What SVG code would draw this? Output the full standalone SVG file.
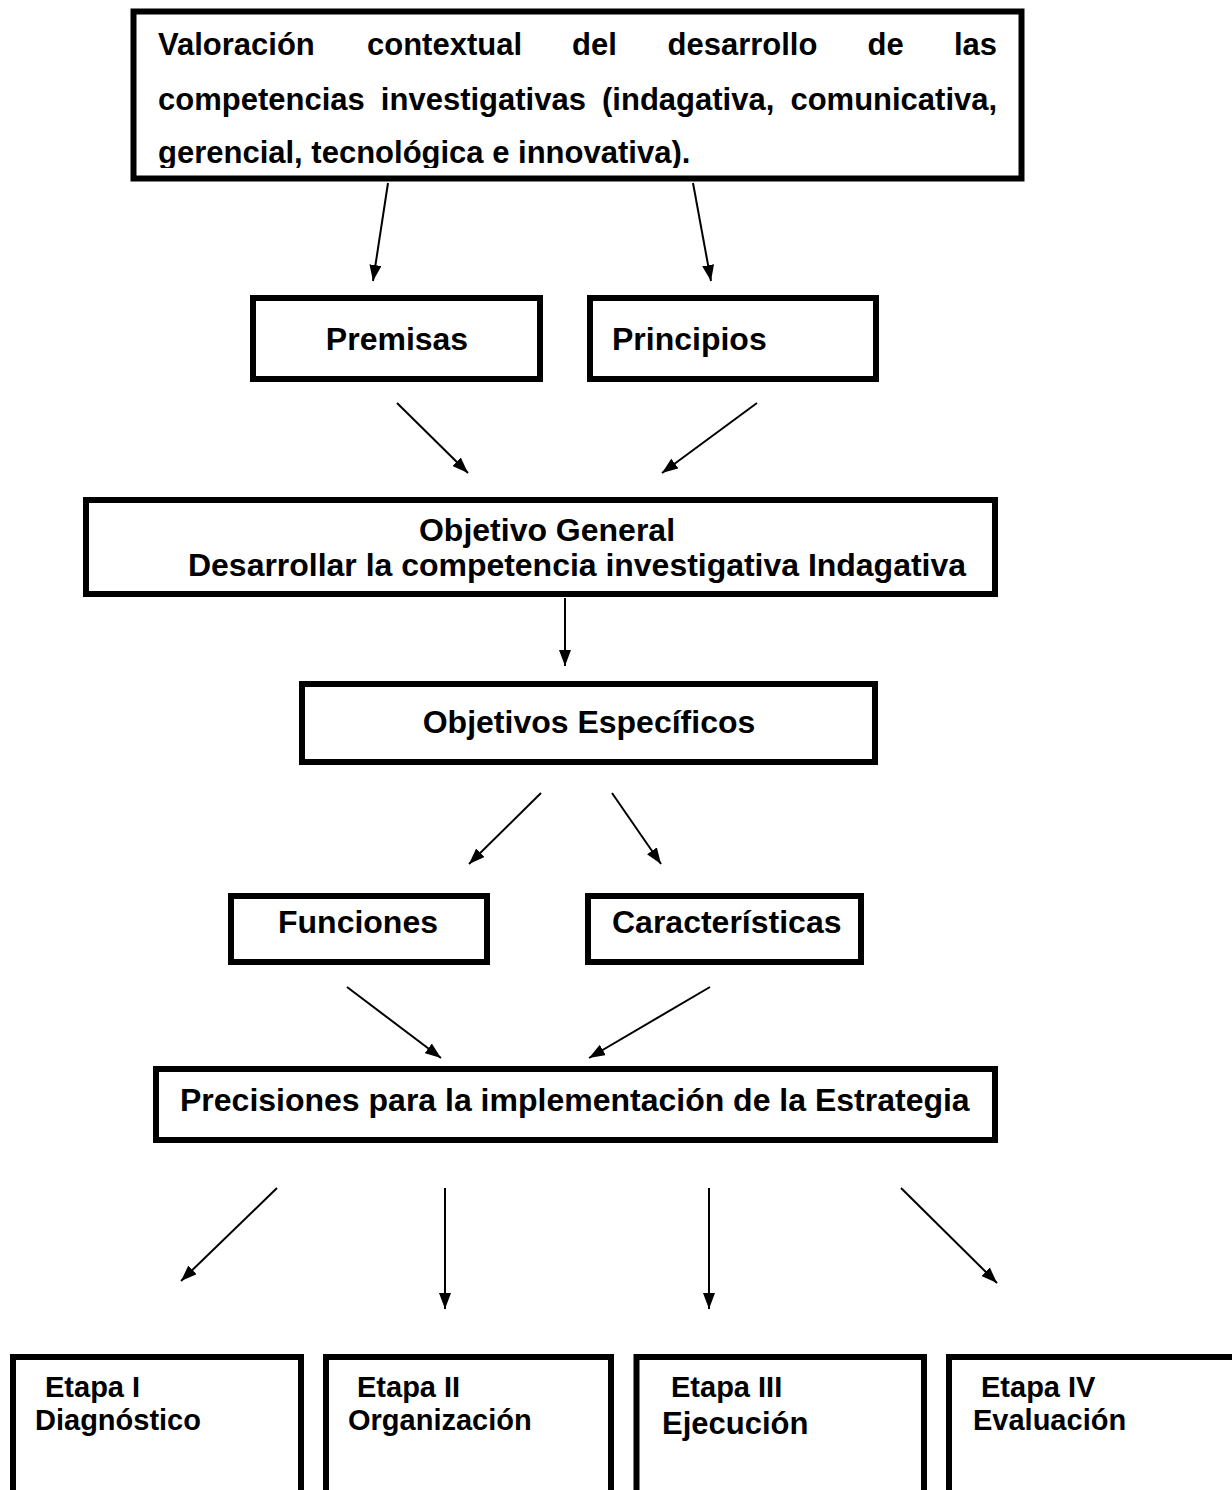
<svg xmlns="http://www.w3.org/2000/svg" width="1232" height="1490" viewBox="0 0 1232 1490">
<style>
.box{fill:#fff;stroke:#000;stroke-width:6}
.open{fill:none;stroke:#000;stroke-width:6}
.t{font-family:"Liberation Sans",Arial,sans-serif;font-weight:bold;font-size:32px;fill:#000}
.tt{font-size:31px}
.s{font-size:29px}
.e{font-size:31px}
.c{stroke:#000;stroke-width:2;fill:none;marker-end:url(#ah)}
</style>
<defs>
<marker id="ah" viewBox="0 0 16 12" refX="16" refY="6" markerWidth="16" markerHeight="12" markerUnits="userSpaceOnUse" orient="auto">
<path d="M0,0 L16,6 L0,12 z" fill="#000"/>
</marker>
<clipPath id="clipTop"><rect x="137" y="15" width="880" height="153"/></clipPath>
</defs>
<rect width="1232" height="1490" fill="#fff"/>

<g id="top">
<rect class="box" x="133.5" y="11.5" width="888" height="167" stroke-width="7"/>
<g clip-path="url(#clipTop)">
<text class="t tt" y="55"><tspan x="158">Valoración</tspan><tspan x="367">contextual</tspan><tspan x="572">del</tspan><tspan x="667.5">desarrollo</tspan><tspan x="867.5">de</tspan><tspan x="954">las</tspan></text>
<text class="t tt" x="158" y="110" word-spacing="7.5">competencias investigativas (indagativa, comunicativa,</text>
<text class="t tt" x="158" y="163">gerencial, tecnológica e innovativa).</text>
</g>
</g>

<g id="premisas">
<rect class="box" x="253" y="298" width="287" height="81"/>
<text class="t" x="397" y="350" text-anchor="middle">Premisas</text>
</g>
<g id="principios">
<rect class="box" x="590" y="298" width="286" height="81"/>
<text class="t" x="612" y="350">Principios</text>
</g>

<g id="objetivo-general">
<rect class="box" x="86" y="500" width="909" height="94"/>
<text class="t" x="547" y="541" text-anchor="middle">Objetivo General</text>
<text class="t" x="188" y="576" textLength="778">Desarrollar la competencia investigativa Indagativa</text>
</g>

<g id="objetivos-especificos">
<rect class="box" x="302" y="684" width="573" height="78"/>
<text class="t" x="589" y="733" text-anchor="middle">Objetivos Específicos</text>
</g>

<g id="funciones">
<rect class="box" x="231" y="896" width="256" height="66"/>
<text class="t" x="358" y="933" text-anchor="middle">Funciones</text>
</g>
<g id="caracteristicas">
<rect class="box" x="588" y="896" width="273" height="66"/>
<text class="t" x="612" y="933">Características</text>
</g>

<g id="precisiones">
<rect class="box" x="156" y="1069" width="839" height="71"/>
<text class="t" x="180" y="1111">Precisiones para la implementación de la Estrategia</text>
</g>

<g id="etapa1">
<path class="open" d="M13,1500 V1357 H301 V1500"/>
<text class="t s" x="45" y="1397">Etapa I</text>
<text class="t s" x="35" y="1430">Diagnóstico</text>
</g>
<g id="etapa2">
<path class="open" d="M326,1500 V1357 H611 V1500"/>
<text class="t s" x="357" y="1397">Etapa II</text>
<text class="t s" x="348" y="1430">Organización</text>
</g>
<g id="etapa3">
<path class="open" d="M636.5,1500 V1357 H924 V1500"/>
<text class="t s" x="671" y="1397">Etapa III</text>
<text class="t e" x="662" y="1434">Ejecución</text>
</g>
<g id="etapa4">
<path class="open" d="M949,1500 V1357 H1240"/>
<text class="t s" x="981" y="1397">Etapa IV</text>
<text class="t s" x="973" y="1430">Evaluación</text>
</g>

<g id="connectors">
<line class="c" x1="388" y1="183" x2="373" y2="281"/>
<line class="c" x1="693" y1="183" x2="711" y2="281"/>
<line class="c" x1="397" y1="403" x2="468" y2="473"/>
<line class="c" x1="757" y1="403" x2="662" y2="473"/>
<line class="c" x1="565" y1="598" x2="565" y2="666"/>
<line class="c" x1="541" y1="793" x2="469" y2="864"/>
<line class="c" x1="612" y1="793" x2="661" y2="864"/>
<line class="c" x1="347" y1="987" x2="441" y2="1058"/>
<line class="c" x1="710" y1="987" x2="589" y2="1058"/>
<line class="c" x1="277" y1="1188" x2="181" y2="1281"/>
<line class="c" x1="445" y1="1188" x2="445" y2="1309"/>
<line class="c" x1="709" y1="1188" x2="709" y2="1309"/>
<line class="c" x1="901" y1="1188" x2="997" y2="1283"/>
</g>
</svg>
